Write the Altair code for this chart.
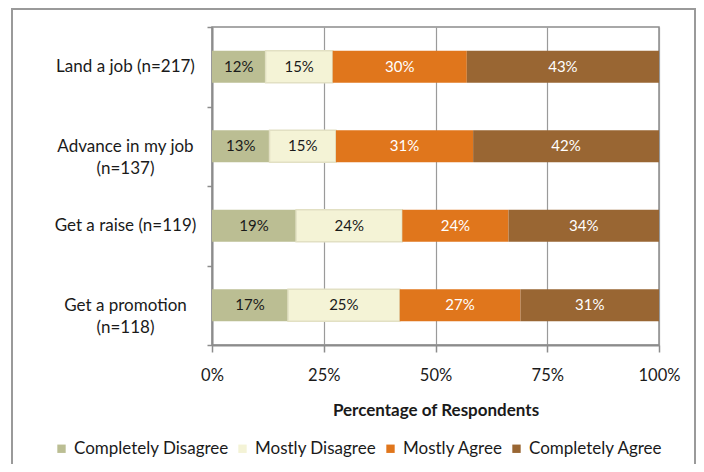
import altair as alt
import pandas as pd

categories = ["Land a job (n=217)", "Advance in my job|(n=137)",
              "Get a raise (n=119)", "Get a promotion|(n=118)"]
responses = ["Completely Disagree", "Mostly Disagree", "Mostly Agree", "Completely Agree"]
completely_disagree = [12, 13, 19, 17]
mostly_disagree = [15, 15, 24, 25]
mostly_agree = [30, 31, 24, 27]
completely_agree = [43, 42, 34, 31]
colors = ["#BBBE93", "#F4F3D6", "#E0761C", "#996633"]
x_ticks = [0, 0.25, 0.5, 0.75, 1.0]

series = [completely_disagree, mostly_disagree, mostly_agree, completely_agree]
rows = []
for r_i, (resp, vals) in enumerate(zip(responses, series)):
    for cat, v in zip(categories, vals):
        rows.append({"category": cat, "response": resp, "order": r_i, "value": v})
df = pd.DataFrame(rows)

FONT = "Lato"

base = alt.Chart(df).transform_stack(
    stack="value", as_=["x0", "x1"], groupby=["category"],
    sort=[alt.SortField("order")], offset="normalize"
).transform_calculate(
    mid="(datum.x0 + datum.x1) / 2", label="datum.value + '%'"
)

y_enc = alt.Y(
    "category:N", sort=categories,
    scale=alt.Scale(paddingInner=0, paddingOuter=0),
    axis=alt.Axis(
        title=None, labelExpr="split(datum.label, '|')", tickBand="extent",
        labelAlign="center", labelBaseline="middle", labelPadding=82, tickSize=5,
        labelLineHeight=22, labelFontSize=17, labelColor="#1a1a1a",
        domainColor="#8c8c8c", domainWidth=2, tickColor="#8c8c8c", tickWidth=1.5,
        grid=False,
    ),
)

bars = base.mark_bar(size=32).encode(
    x=alt.X(
        "x0:Q", scale=alt.Scale(domain=[0, 1], nice=False),
        axis=alt.Axis(
            values=x_ticks, format=".0%", title="Percentage of Respondents",
            labelFontSize=16.5, labelPadding=15, labelColor="#1a1a1a", tickSize=7,
            labelFlush=False, labelOverlap=False,
            titleFontSize=17, titleFontWeight="bold", titlePadding=19, titleColor="#1a1a1a",
            domainColor="#8c8c8c", domainWidth=2, tickColor="#8c8c8c", tickWidth=1.5,
            grid=True, gridColor="#9a9a9a", gridWidth=1.2,
        ),
    ),
    x2="x1:Q",
    y=y_enc,
    color=alt.Color(
        "response:N", sort=responses,
        scale=alt.Scale(domain=responses, range=colors),
        legend=alt.Legend(
            title=None, orient="none", direction="horizontal", legendX=-159, legendY=413,
            padding=0, symbolType="square", symbolSize=70, symbolStrokeWidth=0,
            labelFontSize=17, labelColor="#1a1a1a", labelOffset=4, columnPadding=5,
        ),
    ),
    stroke=alt.condition("datum.order == 1", alt.value("#E2E0C3"), alt.value("transparent")),
    strokeWidth=alt.value(1.5),
)

texts = base.mark_text(fontSize=15, baseline="middle", align="center").encode(
    x="mid:Q",
    y=alt.Y("category:N", sort=categories),
    text="label:N",
    color=alt.condition("datum.order >= 2", alt.value("#ffffff"), alt.value("#1a1a1a")),
)

frame = alt.Chart(pd.DataFrame({"f": [0]})).mark_rect(
    fillOpacity=0, stroke="#9a9a9a", strokeWidth=2
).encode(
    x=alt.value(-200), x2=alt.value(483), y=alt.value(-18), y2=alt.value(470)
)

chart = alt.layer(frame, bars, texts).properties(
    width=447, height=318,
    autosize=alt.AutoSizeParams(type="none"),
    padding={"left": 204, "top": 19, "right": 37, "bottom": 119},
).configure(font=FONT).configure_view(stroke="#8c8c8c", strokeWidth=1.5)

chart.save("out.html", embed_options={"renderer": "svg", "actions": False})
